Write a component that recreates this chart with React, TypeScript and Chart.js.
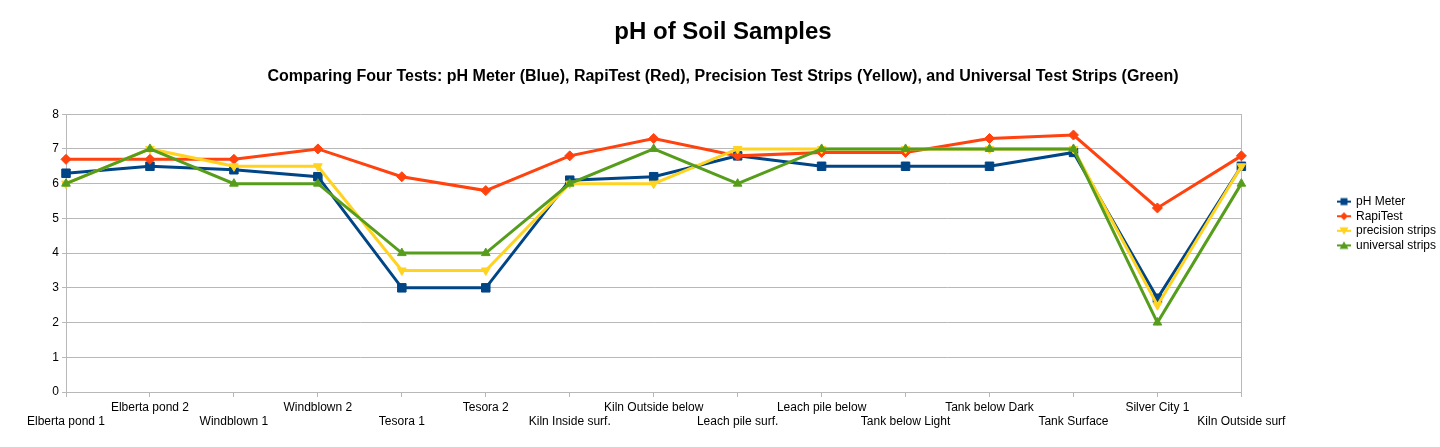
import React, { useEffect, useRef } from "react";
import { Chart, registerables } from "chart.js";

Chart.register(...registerables);

const FONT = '"Liberation Sans", Arial, Helvetica, sans-serif';

const categories = [
  "Elberta pond 1",
  "Elberta pond 2",
  "Windblown 1",
  "Windblown 2",
  "Tesora 1",
  "Tesora 2",
  "Kiln Inside surf.",
  "Kiln Outside below",
  "Leach pile surf.",
  "Leach pile below",
  "Tank below Light",
  "Tank below Dark",
  "Tank Surface",
  "Silver City 1",
  "Kiln Outside surf",
];

const phMeter = [6.3, 6.5, 6.4, 6.2, 3.0, 3.0, 6.1, 6.2, 6.8, 6.5, 6.5, 6.5, 6.9, 2.7, 6.5];
const rapiTest = [6.7, 6.7, 6.7, 7.0, 6.2, 5.8, 6.8, 7.3, 6.8, 6.9, 6.9, 7.3, 7.4, 5.3, 6.8];
const precisionStrips = [6.0, 7.0, 6.5, 6.5, 3.5, 3.5, 6.0, 6.0, 7.0, 7.0, 7.0, 7.0, 7.0, 2.5, 6.5];
const universalStrips = [6.0, 7.0, 6.0, 6.0, 4.0, 4.0, 6.0, 7.0, 6.0, 7.0, 7.0, 7.0, 7.0, 2.0, 6.0];

const seriesLabels = ["pH Meter", "RapiTest", "precision strips", "universal strips"];
const seriesColors = ["#004586", "#ff420e", "#ffd320", "#579d1c"];
const yTicks = [0, 1, 2, 3, 4, 5, 6, 7, 8];

const GRID = "#b8b8b8";

function makeMarker(color: string, shape: string): HTMLCanvasElement {
  const c = document.createElement("canvas");
  const w = 14;
  const h = 10;
  c.width = w;
  c.height = h;
  const ctx = c.getContext("2d")!;
  ctx.strokeStyle = color;
  ctx.fillStyle = color;
  ctx.lineWidth = 2;
  ctx.beginPath();
  ctx.moveTo(0, h / 2);
  ctx.lineTo(w, h / 2);
  ctx.stroke();
  const cx = w / 2;
  const cy = h / 2;
  ctx.beginPath();
  if (shape === "rect") {
    ctx.rect(cx - 3.5, cy - 3.5, 7, 7);
  } else if (shape === "diamond") {
    ctx.moveTo(cx, cy - 4);
    ctx.lineTo(cx + 4, cy);
    ctx.lineTo(cx, cy + 4);
    ctx.lineTo(cx - 4, cy);
    ctx.closePath();
  } else if (shape === "down") {
    ctx.moveTo(cx - 4.5, cy - 3.5);
    ctx.lineTo(cx + 4.5, cy - 3.5);
    ctx.lineTo(cx, cy + 4);
    ctx.closePath();
  } else {
    ctx.moveTo(cx - 4.5, cy + 3.5);
    ctx.lineTo(cx + 4.5, cy + 3.5);
    ctx.lineTo(cx, cy - 4);
    ctx.closePath();
  }
  ctx.fill();
  return c;
}

export default function App() {
  const canvasRef = useRef<HTMLCanvasElement | null>(null);

  useEffect(() => {
    if (!canvasRef.current) return;
    const markers = [
      makeMarker(seriesColors[0], "rect"),
      makeMarker(seriesColors[1], "diamond"),
      makeMarker(seriesColors[2], "down"),
      makeMarker(seriesColors[3], "up"),
    ];
    const values = [phMeter, rapiTest, precisionStrips, universalStrips];
    const pointStyles = ["rect", "rectRot", "triangle", "triangle"];
    const rotations = [0, 0, 180, 0];
    const radii = [6, 5, 5, 5];

    const datasets = values.map((v, i) => ({
      label: seriesLabels[i],
      data: v,
      borderColor: seriesColors[i],
      backgroundColor: seriesColors[i],
      borderWidth: 3,
      pointStyle: pointStyles[i],
      rotation: rotations[i],
      pointRadius: radii[i],
      pointHoverRadius: radii[i],
      pointBorderWidth: 1,
      pointBorderColor: seriesColors[i],
      pointBackgroundColor: seriesColors[i],
      tension: 0,
      order: 3 - i,
    }));

    const chart = new Chart(canvasRef.current, {
      type: "line",
      data: { labels: categories, datasets },
      options: {
        animation: false,
        responsive: true,
        maintainAspectRatio: false,
        layout: { padding: { left: 0, right: -6, top: 0, bottom: 0 } },
        plugins: {
          title: {
            display: true,
            text: "pH of Soil Samples",
            color: "#000",
            font: { family: FONT, size: 24, weight: "bold" },
            padding: { top: 18, bottom: 20 },
          },
          subtitle: {
            display: true,
            text: "Comparing Four Tests: pH Meter (Blue), RapiTest (Red), Precision Test Strips (Yellow), and Universal Test Strips (Green)",
            color: "#000",
            font: { family: FONT, size: 16, weight: "bold" },
            padding: { top: 0, bottom: 28.2 },
          },
          legend: {
            position: "right",
            align: "center",
            labels: {
              usePointStyle: true,
              padding: 2.6,
              color: "#000",
              font: { family: FONT, size: 12 },
              generateLabels: (ch: any) =>
                ch.data.datasets.map((ds: any, i: number) => ({
                  text: ds.label,
                  pointStyle: markers[i],
                  fillStyle: ds.borderColor,
                  strokeStyle: ds.borderColor,
                  fontColor: "#000",
                  lineWidth: 0,
                  hidden: false,
                  datasetIndex: i,
                })),
            },
          },
          tooltip: { enabled: false },
        },
        scales: {
          x: {
            type: "category",
            offset: false,
            grid: {
              display: true,
              drawOnChartArea: false,
              drawTicks: true,
              tickLength: 5,
              color: GRID,
            },
            border: { display: true, color: GRID },
            ticks: {
              autoSkip: false,
              maxRotation: 0,
              minRotation: 0,
              padding: 3,
              color: "#000",
              font: { family: FONT, size: 12 },
              callback: function (this: any, value: any, index: number) {
                const l = categories[index];
                return index % 2 === 0 ? ["", l] : l;
              },
            },
            afterFit: (s: any) => {
              s.height = 55;
            },
          },
          y: {
            type: "linear",
            position: "left",
            min: yTicks[0],
            max: yTicks[yTicks.length - 1],
            grid: { color: GRID, tickLength: 4 },
            border: { display: true, color: GRID },
            ticks: {
              stepSize: 1,
              padding: 3,
              color: "#000",
              font: { family: FONT, size: 12 },
            },
            afterFit: (s: any) => {
              s.width = 66;
            },
          },
          yRight: {
            type: "linear",
            position: "right",
            display: true,
            grid: { display: false },
            border: { display: true, color: GRID },
            ticks: { display: false },
            afterFit: (s: any) => {
              s.width = 94;
            },
          },
        },
      } as any,
    });
    return () => chart.destroy();
  }, []);

  return (
    <div style={{ position: "absolute", left: 0, top: 0, width: 1440, height: 447, background: "#fff" }}>
      <canvas ref={canvasRef} />
    </div>
  );
}
